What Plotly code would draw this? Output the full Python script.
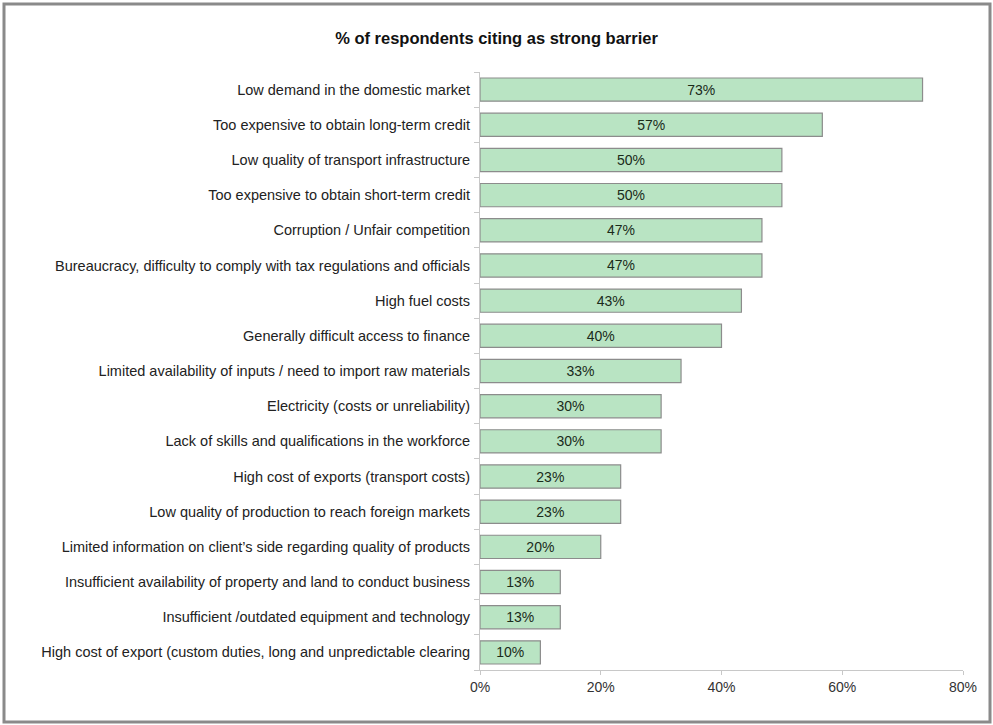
import plotly.graph_objects as go

# Survey barriers, listed top to bottom
barriers = [
    "Low demand in the domestic market",
    "Too expensive to obtain long-term credit",
    "Low quality of transport infrastructure",
    "Too expensive to obtain short-term credit",
    "Corruption / Unfair competition",
    "Bureaucracy, difficulty to comply with tax regulations and officials",
    "High fuel costs",
    "Generally difficult access to finance",
    "Limited availability of inputs / need to import raw materials",
    "Electricity (costs or unreliability)",
    "Lack of skills and qualifications in the workforce",
    "High cost of exports (transport costs)",
    "Low quality of production to reach foreign markets",
    "Limited information on client\u2019s side regarding quality of products",
    "Insufficient availability of property and land to conduct business",
    "Insufficient /outdated equipment and technology",
    "High cost of export (custom duties, long and unpredictable clearing",
]
# Share of respondents citing each barrier as strong (%)
share_pct = [73.3, 56.7, 50.0, 50.0, 46.7, 46.7, 43.3, 40.0, 33.3,
             30.0, 30.0, 23.3, 23.3, 20.0, 13.3, 13.3, 10.0]

x_ticks = [0, 20, 40, 60, 80]
x_tick_labels = ["0%", "20%", "40%", "60%", "80%"]

FONT = "Liberation Sans, Arial, sans-serif"

fig = go.Figure(
    go.Bar(
        x=share_pct,
        y=barriers,
        orientation="h",
        marker=dict(color="#b9e4c3", line=dict(color="#8c8c8c", width=1.2)),
        texttemplate="%{x:.0f}%",
        textposition="inside",
        insidetextanchor="middle",
        textfont=dict(family=FONT, size=14, color="#1a2b1a"),
        hoverinfo="skip",
    )
)

W, H = 993, 725
L, R, T, B = 480, 30, 72, 55
pw, ph = W - L - R, H - T - B


def px_x(p):
    return (p - L) / pw


def px_y(p):
    return (H - B - p) / ph


fig.update_layout(
    width=W,
    height=H,
    margin=dict(l=L, r=R, t=T, b=B),
    paper_bgcolor="white",
    plot_bgcolor="white",
    bargap=0.34,
    showlegend=False,
    title=dict(
        text="<b>% of respondents citing as strong barrier</b>",
        x=0.5, xanchor="center", y=1 - 38 / H, yanchor="middle",
        font=dict(family=FONT, size=16.5, color="#111111"),
    ),
    font=dict(family=FONT, size=14.5, color="#222222"),
    shapes=[
        dict(
            type="rect", xref="paper", yref="paper",
            x0=px_x(4), x1=px_x(990), y0=px_y(722), y1=px_y(4),
            line=dict(color="#8a8a8a", width=3), fillcolor="rgba(0,0,0,0)",
            layer="below",
        )
    ],
)

fig.update_xaxes(
    range=[0, 80],
    tickvals=x_ticks,
    ticktext=x_tick_labels,
    showgrid=False,
    zeroline=False,
    showline=True,
    linecolor="#c8c8c8",
    linewidth=1,
    ticks="outside",
    ticklen=4,
    tickcolor="#c8c8c8",
    tickfont=dict(family=FONT, size=14, color="#333333"),
    fixedrange=True,
)

fig.update_yaxes(
    categoryorder="array",
    categoryarray=barriers[::-1],
    showgrid=False,
    showline=True,
    linecolor="#c8c8c8",
    linewidth=1,
    ticks="outside",
    tickson="boundaries",
    ticklen=5,
    tickcolor="#c8c8c8",
    ticklabelstandoff=6,
    tickfont=dict(family=FONT, size=14.5, color="#222222"),
    fixedrange=True,
)

fig.write_html("out.html", config={"displayModeBar": False})
